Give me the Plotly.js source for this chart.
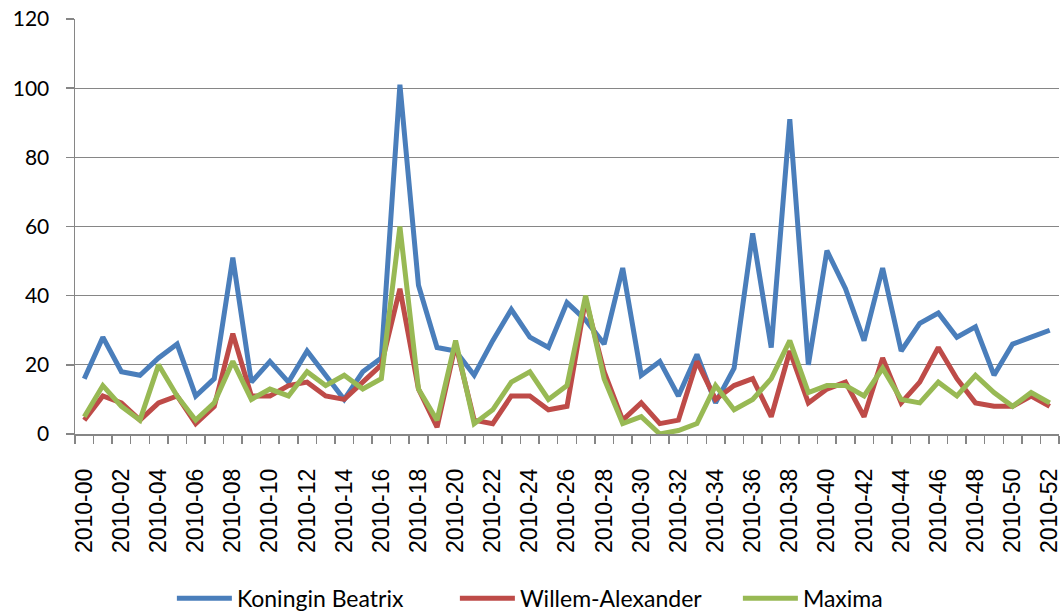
<!DOCTYPE html>
<html>
<head>
<meta charset="utf-8">
<script src="https://cdn.plot.ly/plotly-3.0.1.min.js"></script>
<style>html,body{margin:0;padding:0;background:#fff;}#chart{width:1061px;height:613px;}</style>
</head>
<body>
<div id="chart"></div>
<script>
const weeks = ["2010-00","2010-01","2010-02","2010-03","2010-04","2010-05","2010-06","2010-07","2010-08","2010-09",
"2010-10","2010-11","2010-12","2010-13","2010-14","2010-15","2010-16","2010-17","2010-18","2010-19",
"2010-20","2010-21","2010-22","2010-23","2010-24","2010-25","2010-26","2010-27","2010-28","2010-29",
"2010-30","2010-31","2010-32","2010-33","2010-34","2010-35","2010-36","2010-37","2010-38","2010-39",
"2010-40","2010-41","2010-42","2010-43","2010-44","2010-45","2010-46","2010-47","2010-48","2010-49",
"2010-50","2010-51","2010-52"];

const beatrix = [16,28,18,17,22,26,11,16,51,15,
21,15,24,17,10,18,22,101,43,25,
24,17,27,36,28,25,38,33,26,48,
17,21,11,23,9,19,58,25,91,20,
53,42,27,48,24,32,35,28,31,17,
26,28,30];

const willemAlexander = [4,11,9,4,9,11,3,8,29,11,
11,14,15,11,10,15,20,42,13,2,
26,4,3,11,11,7,8,39,18,4,
9,3,4,21,10,14,16,5,24,9,
13,15,5,22,9,15,25,16,9,8,
8,11,8];

const maxima = [5,14,8,4,20,11,4,9,21,10,
13,11,18,14,17,13,16,60,13,4,
27,3,7,15,18,10,14,40,16,3,
5,0,1,3,14,7,10,16,27,12,
14,14,11,19,10,9,15,11,17,12,
8,12,9];

const seriesNames = ["Koningin Beatrix","Willem-Alexander","Maxima"];
const seriesColors = ["#4A7EBB","#BE4B48","#98B954"];
const seriesData = [beatrix, willemAlexander, maxima];

const xIdx = weeks.map((_, i) => i);
const labelIdx = xIdx.filter(i => i % 2 === 0);
const labelText = labelIdx.map(i => weeks[i]);

const traces = seriesData.map((d, k) => ({
  type: "scatter",
  mode: "lines",
  name: seriesNames[k],
  x: xIdx,
  y: d,
  line: {color: seriesColors[k], width: 5, shape: "linear"},
  hoverinfo: "x+y+name"
}));

const layout = {
  width: 1061,
  height: 613,
  margin: {l: 75, r: 2, t: 19, b: 179},
  paper_bgcolor: "#ffffff",
  plot_bgcolor: "#ffffff",
  showlegend: true,
  legend: {
    orientation: "h",
    xref: "container",
    yref: "container",
    x: 0.162,
    xanchor: "left",
    y: 0.024,
    yanchor: "middle",
    font: {family: "Lato, 'Open Sans', sans-serif", size: 23, color: "#000"},
    itemwidth: 55,
    entrywidth: 213,
    entrywidthmode: "pixels",
    traceorder: "normal"
  },
  xaxis: {
    type: "linear",
    range: [-0.5, 52.5],
    tickmode: "array",
    tickvals: labelIdx,
    ticktext: labelText,
    tickangle: -90,
    ticks: "",
    ticklabelstandoff: 24,
    ticklabeloverflow: "allow",
    tickfont: {family: "'Liberation Sans', Arial, sans-serif", size: 23, color: "#000"},
    showline: true,
    linecolor: "#868686",
    linewidth: 1.5,
    showgrid: false,
    zeroline: false,
    minor: {tick0: 0.5, dtick: 1, ticks: "outside", ticklen: 8, tickcolor: "#868686", tickwidth: 1.5, showgrid: false}
  },
  yaxis: {
    range: [0, 120],
    tickmode: "linear",
    tick0: 0,
    dtick: 20,
    ticks: "outside",
    ticklen: 8,
    tickcolor: "#868686",
    tickwidth: 1.5,
    ticklabelstandoff: 12,
    tickfont: {family: "Lato, 'Open Sans', sans-serif", size: 21, color: "#000"},
    showline: true,
    linecolor: "#868686",
    linewidth: 1.5,
    showgrid: true,
    gridcolor: "#868686",
    gridwidth: 1.3,
    zeroline: false
  }
};

Plotly.newPlot("chart", traces, layout, {displayModeBar: false, staticPlot: true});
</script>
</body>
</html>
